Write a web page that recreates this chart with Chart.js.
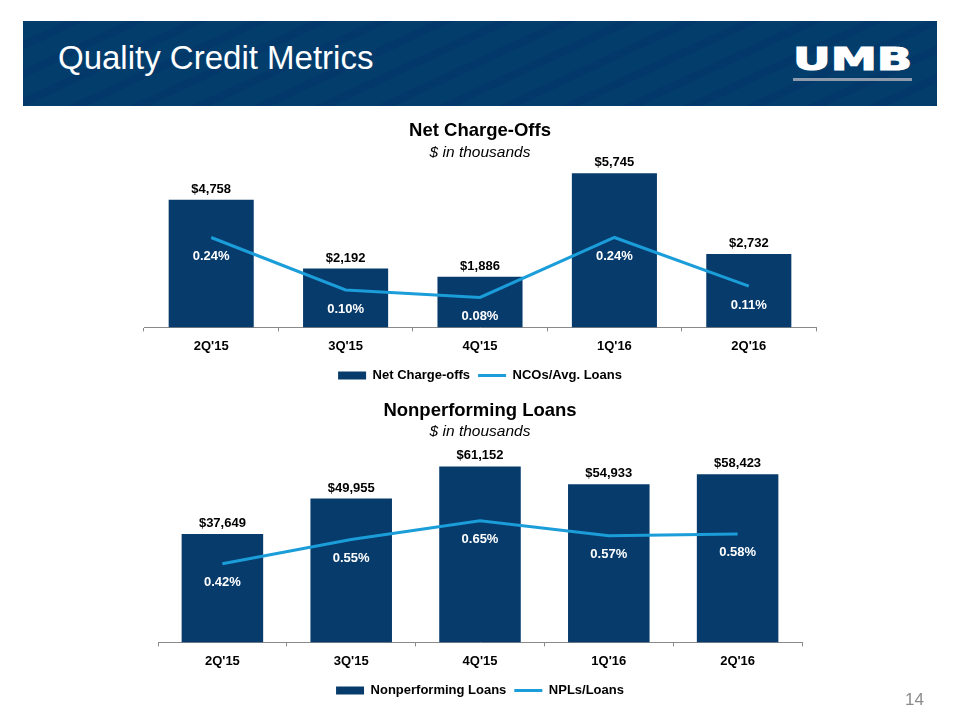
<!DOCTYPE html>
<html>
<head>
<meta charset="utf-8">
<script src="https://cdn.jsdelivr.net/npm/chart.js@4.4.0/dist/chart.umd.min.js"></script>
<style>
  body { margin: 0; background: #fff; width: 960px; height: 720px; position: relative; overflow: hidden;
         font-family: "Liberation Sans", Arial, sans-serif; }
  .banner { position: absolute; left: 23px; top: 21px; width: 914px; height: 85px;
            background: repeating-linear-gradient(155deg, #033d6c 0px, #033d6c 18px, #02396a 18px, #02396a 26px); }
  .banner h1 { position: absolute; left: 35px; top: 17px; margin: 0; font-weight: normal;
               font-size: 33px; line-height: 40px; color: #fff; }
  .logo { position: absolute; left: 770px; top: 22px; font-family: "DejaVu Sans", sans-serif; font-weight: bold;
          font-size: 32px; line-height: 32px; color: #fff; -webkit-text-stroke: 1.2px #fff;
          transform: scaleX(1.45); transform-origin: left top; }
  .logo-bar { position: absolute; left: 770px; top: 57px; width: 119px; height: 3px; background: #8d9aab; }
  .page { position: absolute; left: 905px; top: 690px; font-size: 17px; color: #8c8c8c; }
  .chart { position: absolute; left: 0; }
</style>
</head>
<body>
<div class="banner">
  <h1>Quality Credit Metrics</h1>
  <div class="logo">UMB</div>
  <div class="logo-bar"></div>
</div>
<div class="chart" style="top:110px"><canvas id="nco-chart" width="960" height="285"></canvas></div>
<div class="chart" style="top:395px"><canvas id="npl-chart" width="960" height="324"></canvas></div>
<div class="page">14</div>

<script>
// Quarters shown on both charts
const quarters = ["2Q'15", "3Q'15", "4Q'15", "1Q'16", "2Q'16"];

// Net charge-offs ($ thousands) and NCOs / avg. loans (%)
const netChargeOffs = [4758, 2192, 1886, 5745, 2732];
const ncoRatio = [0.24, 0.10, 0.08, 0.24, 0.11];

// Nonperforming loans ($ thousands) and NPLs / loans (%)
const nplAmounts = [37649, 49955, 61152, 54933, 58423];
const nplRatio = [0.42, 0.55, 0.65, 0.57, 0.58];

const BAR_COLOR = '#073b6b';
const LINE_COLOR = '#1a9dd8';
const AXIS_COLOR = '#8a8a8a';

Chart.defaults.font.family = '"Liberation Sans", Arial, sans-serif';
Chart.defaults.color = '#000';

// Draws "$x,xxx" above bars and white "x.xx%" under the line points
const valueLabels = {
    id: 'valueLabels',
    afterDatasetsDraw(chart) {
        const ctx = chart.ctx;
        ctx.save();
        ctx.font = 'bold 13px "Liberation Sans", Arial, sans-serif';
        ctx.textAlign = 'center';
        chart.data.datasets.forEach((ds, i) => {
            const meta = chart.getDatasetMeta(i);
            meta.data.forEach((el, j) => {
                const v = ds.data[j];
                if (ds.type === 'line') {
                    ctx.fillStyle = '#fff';
                    ctx.textBaseline = 'middle';
                    ctx.fillText(v.toFixed(2) + '%', el.x, el.y + 19);
                } else {
                    ctx.fillStyle = '#000';
                    ctx.textBaseline = 'bottom';
                    ctx.fillText('$' + v.toLocaleString('en-US'), el.x, el.y - 4);
                }
            });
        });
        ctx.restore();
    }
};

function makeChart(canvasId, opts) {
    const canvas = document.getElementById(canvasId);
    return new Chart(canvas.getContext('2d'), {
        type: 'bar',
        data: {
            labels: quarters,
            datasets: [{
                type: 'bar',
                label: opts.barLabel,
                data: opts.bars,
                backgroundColor: BAR_COLOR,
                borderWidth: 0,
                categoryPercentage: 1,
                barPercentage: 0.633,
                pointStyle: 'rect',
                yAxisID: 'y',
                order: 2
            }, {
                type: 'line',
                label: opts.lineLabel,
                data: opts.line,
                borderColor: LINE_COLOR,
                backgroundColor: LINE_COLOR,
                borderWidth: 3,
                pointRadius: 0,
                pointStyle: 'line',
                tension: 0,
                yAxisID: 'y1',
                order: 1
            }]
        },
        options: {
            responsive: false,
            animation: false,
            layout: { padding: opts.padding },
            plugins: {
                tooltip: { enabled: false },
                title: {
                    display: true,
                    text: opts.title,
                    color: '#000',
                    font: { size: 18.5, weight: 'bold' },
                    padding: opts.titlePad
                },
                subtitle: {
                    display: true,
                    text: '$ in thousands',
                    color: '#000',
                    font: { size: 15.5, style: 'italic' },
                    padding: opts.subPad
                },
                legend: {
                    position: 'bottom',
                    labels: {
                        usePointStyle: true,
                        pointStyleWidth: 28,
                        boxHeight: 8,
                        padding: 8,
                        color: '#000',
                        font: { size: 13, weight: 'bold' },
                        sort: (a, b) => a.datasetIndex - b.datasetIndex
                    }
                }
            },
            scales: {
                x: {
                    grid: { display: true, drawOnChartArea: false, drawTicks: true, tickLength: 4, color: AXIS_COLOR },
                    border: { display: true, color: AXIS_COLOR, width: 1 },
                    ticks: { padding: 7, color: '#000', font: { size: 13, weight: 'bold' } }
                },
                y: { display: false, min: 0, max: opts.barMax },
                y1: { display: false, min: 0, max: opts.lineMax, position: 'right' }
            }
        },
        plugins: [valueLabels]
    });
}

makeChart('nco-chart', {
    title: 'Net Charge-Offs',
    barLabel: 'Net Charge-offs',
    lineLabel: 'NCOs/Avg. Loans',
    bars: netChargeOffs,
    line: ncoRatio,
    barMax: 6000,
    lineMax: 0.43,
    padding: { left: 144, right: 144, top: 0, bottom: 3 },
    titlePad: { top: 10, bottom: 0 },
    subPad: { top: 1.5, bottom: 4 }
});

makeChart('npl-chart', {
    title: 'Nonperforming Loans',
    barLabel: 'Nonperforming Loans',
    lineLabel: 'NPLs/Loans',
    bars: nplAmounts,
    line: nplRatio,
    barMax: 65000,
    lineMax: 1.0,
    padding: { left: 158, right: 158, top: 0, bottom: 12 },
    titlePad: { top: 5, bottom: 0 },
    subPad: { top: 0.5, bottom: 14 }
});
</script>
</body>
</html>
